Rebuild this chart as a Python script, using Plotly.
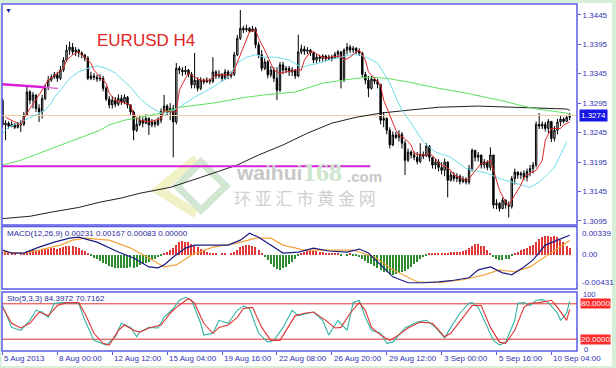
import plotly.graph_objects as go

W, H = 616, 368
def px(x):
    return x / W
def py(y):
    return 1 - y / H

# ---------------- data ----------------
first_open = 1.3300
closes = [1.3258,1.3261,1.3256,1.3259,1.3254,1.3258,1.3259,1.3275,1.3314,1.3300,
1.3309,1.3286,1.3280,1.3303,1.3322,1.3334,1.3339,1.3343,1.3337,1.3351,
1.3368,1.3385,1.3390,1.3382,1.3385,1.3380,1.3377,1.3371,1.3337,1.3341,
1.3339,1.3336,1.3337,1.3320,1.3302,1.3292,1.3300,1.3293,1.3303,1.3297,
1.3305,1.3292,1.3280,1.3249,1.3259,1.3266,1.3261,1.3269,1.3258,1.3263,
1.3259,1.3266,1.3281,1.3290,1.3280,1.3286,1.3263,1.3354,1.3351,1.3348,
1.3351,1.3344,1.3326,1.3334,1.3320,1.3334,1.3331,1.3334,1.3332,1.3348,
1.3341,1.3344,1.3337,1.3348,1.3341,1.3344,1.3377,1.3405,1.3422,1.3419,
1.3422,1.3417,1.3421,1.3394,1.3377,1.3354,1.3365,1.3343,1.3351,1.3337,
1.3317,1.3360,1.3351,1.3354,1.3348,1.3351,1.3341,1.3382,1.3387,1.3383,
1.3385,1.3380,1.3368,1.3373,1.3371,1.3375,1.3370,1.3373,1.3371,1.3378,
1.3382,1.3334,1.3385,1.3390,1.3385,1.3388,1.3383,1.3380,1.3344,1.3334,
1.3320,1.3336,1.3332,1.3327,1.3266,1.3269,1.3249,1.3224,1.3241,1.3237,
1.3242,1.3227,1.3198,1.3212,1.3207,1.3203,1.3196,1.3208,1.3205,1.3222,
1.3203,1.3190,1.3195,1.3186,1.3181,1.3195,1.3164,1.3173,1.3167,1.3171,
1.3162,1.3166,1.3161,1.3184,1.3215,1.3203,1.3207,1.3190,1.3195,1.3186,
1.3207,1.3122,1.3125,1.3116,1.3130,1.3122,1.3120,1.3167,1.3178,1.3173,
1.3176,1.3169,1.3179,1.3184,1.3190,1.3259,1.3256,1.3259,1.3252,1.3264,
1.3235,1.3249,1.3263,1.3268,1.3264,1.3271,1.3274]
highs = [1.3303,1.3266,1.3264,1.3264,1.3261,1.3263,1.3266,1.3280,1.3324,1.3317,
1.3314,1.3309,1.3293,1.3309,1.3327,1.3341,1.3344,1.3348,1.3348,1.3358,
1.3373,1.3394,1.3399,1.3397,1.3390,1.3387,1.3383,1.3378,1.3375,1.3348,
1.3346,1.3343,1.3344,1.3341,1.3324,1.3307,1.3307,1.3305,1.3310,1.3309,
1.3310,1.3307,1.3293,1.3283,1.3269,1.3275,1.3271,1.3276,1.3271,1.3268,
1.3266,1.3271,1.3286,1.3309,1.3293,1.3295,1.3292,1.3363,1.3358,1.3356,
1.3358,1.3353,1.3348,1.3380,1.3339,1.3339,1.3337,1.3339,1.3337,1.3373,
1.3351,1.3351,1.3346,1.3353,1.3351,1.3349,1.3382,1.3411,1.3453,1.3426,
1.3428,1.3424,1.3426,1.3424,1.3399,1.3385,1.3371,1.3368,1.3358,1.3356,
1.3356,1.3365,1.3365,1.3358,1.3358,1.3356,1.3353,1.3411,1.3394,1.3392,
1.3390,1.3387,1.3383,1.3378,1.3377,1.3378,1.3377,1.3377,1.3377,1.3382,
1.3385,1.3383,1.3388,1.3397,1.3394,1.3392,1.3390,1.3388,1.3382,1.3348,
1.3341,1.3341,1.3339,1.3336,1.3327,1.3280,1.3271,1.3254,1.3247,1.3246,
1.3249,1.3246,1.3232,1.3218,1.3215,1.3213,1.3212,1.3227,1.3213,1.3227,
1.3224,1.3203,1.3201,1.3200,1.3195,1.3201,1.3196,1.3179,1.3178,1.3176,
1.3174,1.3171,1.3169,1.3190,1.3218,1.3215,1.3212,1.3207,1.3200,1.3198,
1.3220,1.3207,1.3132,1.3127,1.3135,1.3132,1.3128,1.3171,1.3184,1.3179,
1.3179,1.3181,1.3184,1.3190,1.3195,1.3264,1.3278,1.3264,1.3263,1.3268,
1.3264,1.3256,1.3268,1.3273,1.3271,1.3275,1.3278]
lows = [1.3254,1.3232,1.3252,1.3254,1.3251,1.3252,1.3246,1.3256,1.3273,1.3293,
1.3286,1.3280,1.3263,1.3269,1.3300,1.3317,1.3331,1.3336,1.3331,1.3334,
1.3348,1.3365,1.3377,1.3377,1.3375,1.3373,1.3371,1.3366,1.3334,1.3334,
1.3334,1.3331,1.3332,1.3315,1.3298,1.3286,1.3286,1.3288,1.3290,1.3292,
1.3293,1.3286,1.3275,1.3232,1.3246,1.3256,1.3254,1.3259,1.3241,1.3254,
1.3254,1.3256,1.3261,1.3278,1.3273,1.3266,1.3203,1.3259,1.3344,1.3341,
1.3343,1.3339,1.3320,1.3320,1.3315,1.3317,1.3327,1.3329,1.3327,1.3329,
1.3336,1.3337,1.3332,1.3334,1.3336,1.3337,1.3341,1.3375,1.3402,1.3414,
1.3416,1.3414,1.3416,1.3388,1.3371,1.3349,1.3351,1.3337,1.3339,1.3331,
1.3300,1.3314,1.3344,1.3346,1.3341,1.3341,1.3336,1.3339,1.3378,1.3377,
1.3378,1.3375,1.3363,1.3363,1.3365,1.3366,1.3366,1.3368,1.3366,1.3370,
1.3371,1.3320,1.3331,1.3378,1.3380,1.3380,1.3378,1.3375,1.3339,1.3327,
1.3305,1.3318,1.3327,1.3320,1.3259,1.3254,1.3242,1.3218,1.3222,1.3234,
1.3230,1.3218,1.3173,1.3195,1.3201,1.3198,1.3191,1.3193,1.3200,1.3205,
1.3196,1.3184,1.3183,1.3179,1.3174,1.3171,1.3135,1.3162,1.3162,1.3161,
1.3157,1.3159,1.3157,1.3157,1.3179,1.3196,1.3196,1.3184,1.3184,1.3181,
1.3181,1.3116,1.3115,1.3111,1.3115,1.3116,1.3101,1.3116,1.3157,1.3167,
1.3166,1.3164,1.3162,1.3171,1.3176,1.3186,1.3251,1.3251,1.3247,1.3244,
1.3229,1.3230,1.3242,1.3256,1.3261,1.3263,1.3266]
opens = [first_open] + closes[:-1]   # gapless feed: each bar opens at previous close
bars = list(range(len(closes)))

# moving averages (bar index, price)
ma_red_x = [1,6,7,9,12,15,18,20,21,23,25,27,29,30,32,34,35,37,40,42,43,45,48,50,52,53,55,57,58,60,61,63,65,68,70,71,75,76,78,80,81,83,84,86,88,89,91,93,96,98,99,101,102,104,106,107,111,112,114,116,117,119,120,122,124,125,127,129,130,132,134,135,137,139,140,142,143,145,147,148,150,152,153,155,157,158,160,161,163,165,166,168,170,171,173,175,177,178,180,181,183,184,186]
ma_red_y = [1.3271,1.3258,1.3269,1.3286,1.3309,1.3334,1.3346,1.3354,1.3368,1.3377,1.3382,1.3373,1.3363,1.3351,1.3339,1.3329,1.3312,1.3300,1.3295,1.3292,1.3275,1.3266,1.3263,1.3266,1.3269,1.3283,1.3280,1.3280,1.3317,1.3337,1.3346,1.3339,1.3334,1.3334,1.3343,1.3343,1.3343,1.3351,1.3377,1.3402,1.3416,1.3419,1.3405,1.3385,1.3363,1.3351,1.3346,1.3348,1.3351,1.3351,1.3368,1.3382,1.3382,1.3375,1.3371,1.3373,1.3375,1.3368,1.3373,1.3382,1.3385,1.3368,1.3348,1.3337,1.3326,1.3300,1.3275,1.3249,1.3241,1.3235,1.3224,1.3210,1.3207,1.3207,1.3210,1.3201,1.3193,1.3188,1.3181,1.3173,1.3169,1.3164,1.3167,1.3181,1.3193,1.3193,1.3198,1.3181,1.3147,1.3127,1.3122,1.3139,1.3156,1.3169,1.3176,1.3181,1.3198,1.3232,1.3252,1.3252,1.3252,1.3258,1.3263]
ma_cyan_x = [0,2,6,9,12,14,16,17,19,22,25,29,31,34,37,40,42,45,48,53,58,63,69,74,77,80,83,86,90,94,98,101,104,107,111,114,117,120,123,125,127,129,131,134,136,138,140,142,147,152,159,163,167,173,176,181,185]
ma_cyan_y = [1.3244,1.3254,1.3263,1.3271,1.3278,1.3283,1.3295,1.3305,1.3317,1.3337,1.3348,1.3356,1.3358,1.3354,1.3346,1.3331,1.3322,1.3303,1.3290,1.3275,1.3288,1.3305,1.3322,1.3339,1.3363,1.3373,1.3377,1.3373,1.3373,1.3368,1.3356,1.3360,1.3363,1.3368,1.3373,1.3377,1.3377,1.3371,1.3363,1.3346,1.3329,1.3305,1.3283,1.3261,1.3244,1.3229,1.3220,1.3212,1.3203,1.3184,1.3176,1.3167,1.3161,1.3152,1.3161,1.3186,1.3229]
ma_green_x = [0,6,12,19,25,32,35,40,45,52,58,69,80,86,96,105,116,120,126,133,141,152,163,174,185,186]
ma_green_y = [1.3190,1.3198,1.3210,1.3224,1.3235,1.3249,1.3258,1.3266,1.3271,1.3278,1.3288,1.3295,1.3305,1.3309,1.3314,1.3329,1.3337,1.3339,1.3337,1.3331,1.3322,1.3312,1.3300,1.3286,1.3278,1.3275]
ma_black_x = [0,9,16,25,32,39,45,48,55,65,77,84,92,100,108,116,124,133,143,156,169,180,185,186]
ma_black_y = [1.3099,1.3103,1.3110,1.3118,1.3127,1.3134,1.3142,1.3145,1.3152,1.3169,1.3190,1.3207,1.3224,1.3244,1.3261,1.3271,1.3278,1.3283,1.3288,1.3290,1.3288,1.3286,1.3285,1.3283]

# drawn objects
trend_a_x = [-0.2, 14]
trend_a_y = [1.3327, 1.3322]
trend_b_x = [14, 18.2]
trend_b_y = [1.3322, 1.3320]
hline_x = [-0.2, 120.6]
hline_y = [1.3188, 1.3188]
bid_price = 1.3274

# MACD
macd_hist = [0.0003,0.0004,0.0003,0.0001,0.0001,0.0000,0.0001,0.0002,0.0004,0.0005,
0.0006,0.0005,0.0005,0.0006,0.0007,0.0007,0.0008,0.0008,0.0007,0.0008,
0.0009,0.0010,0.0011,0.0010,0.0009,0.0008,0.0006,0.0004,0.0001,-0.0002,
-0.0004,-0.0006,-0.0008,-0.0010,-0.0012,-0.0014,-0.0015,-0.0016,-0.0017,-0.0016,
-0.0017,-0.0016,-0.0015,-0.0016,-0.0015,-0.0013,-0.0012,-0.0010,-0.0009,-0.0007,
-0.0005,-0.0003,-0.0001,0.0001,0.0003,0.0005,0.0008,0.0012,0.0015,0.0017,
0.0016,0.0015,0.0013,0.0011,0.0009,0.0007,0.0005,0.0003,0.0002,0.0001,
0.0001,0.0000,0.0001,0.0001,0.0000,0.0001,0.0003,0.0006,0.0009,0.0011,
0.0012,0.0012,0.0011,0.0009,0.0005,0.0001,-0.0003,-0.0007,-0.0012,-0.0015,
-0.0018,-0.0019,-0.0017,-0.0015,-0.0012,-0.0009,-0.0005,-0.0002,0.0001,0.0003,
0.0004,0.0005,0.0004,0.0004,0.0003,0.0003,0.0002,0.0002,0.0001,0.0002,
0.0001,-0.0001,0.0000,-0.0001,0.0001,-0.0001,-0.0002,-0.0003,-0.0006,-0.0008,
-0.0011,-0.0012,-0.0014,-0.0016,-0.0019,-0.0021,-0.0022,-0.0024,-0.0025,-0.0024,
-0.0023,-0.0021,-0.0020,-0.0018,-0.0015,-0.0012,-0.0009,-0.0006,-0.0003,-0.0001,
0.0001,0.0001,0.0002,0.0001,0.0002,0.0002,0.0001,0.0003,0.0003,0.0003,
0.0003,0.0004,0.0005,0.0008,0.0011,0.0013,0.0013,0.0011,0.0010,0.0006,
0.0002,-0.0003,-0.0005,-0.0007,-0.0007,-0.0006,-0.0005,-0.0002,0.0001,0.0003,
0.0005,0.0007,0.0008,0.0010,0.0012,0.0015,0.0019,0.0021,0.0023,0.0023,
0.0022,0.0023,0.0021,0.0018,0.0015,0.0011,0.0008]
macd_main_x = [0,3,7,12,17,22,25,31,38,43,48,51,53,56,60,63,69,74,78,81,84,88,92,97,102,107,113,117,120,124,128,133,138,143,147,153,156,160,164,167,171,174,178,182,186]
macd_main_y = [0.00049,0.00012,0.00012,0.00085,0.00146,0.00195,0.00207,0.00146,0.00024,-0.00049,-0.00159,-0.00171,-0.00134,-0.00037,0.00073,0.00110,0.00110,0.00110,0.00171,0.00256,0.00207,0.00110,0.00012,0.00024,0.00073,0.00037,0.00024,0.00061,0.00012,-0.00134,-0.00281,-0.00354,-0.00354,-0.00342,-0.00329,-0.00293,-0.00195,-0.00159,-0.00232,-0.00256,-0.00159,-0.00073,0.00110,0.00171,0.00231]
macd_sig_x = [0,7,12,19,23,27,35,42,48,53,57,62,69,77,83,88,92,99,107,115,122,128,136,143,151,158,163,168,173,180,186]
macd_sig_y = [0.00024,0.00012,0.00049,0.00110,0.00171,0.00195,0.00171,0.00073,-0.00049,-0.00159,-0.00134,-0.00012,0.00085,0.00134,0.00195,0.00195,0.00110,0.00049,0.00049,0.00049,-0.00037,-0.00195,-0.00342,-0.00354,-0.00317,-0.00256,-0.00195,-0.00220,-0.00159,0.00012,0.00167]

# Stochastic
sto_k_x = [0,3,6,9,11,13,15,17,20,25,27,30,34,37,39,42,44,45,48,51,53,56,58,60,62,65,66,69,71,74,77,79,81,84,87,89,92,95,97,102,105,107,110,113,115,117,119,121,124,126,128,132,136,139,142,145,147,150,153,154,156,159,161,163,165,168,169,171,173,175,177,179,182,183,185,186]
sto_k_y = [77,40,35,52,69,66,57,81,82,81,52,18,10,24,47,40,24,32,40,39,57,72,86,91,86,47,27,30,52,47,69,76,72,30,15,18,40,69,60,66,52,27,52,35,82,86,57,35,30,13,15,39,49,52,40,22,40,64,81,82,74,40,18,10,15,52,81,82,77,86,87,82,64,52,64,84.3972]
sto_d_x = [0,3,6,9,12,15,18,21,25,27,30,33,35,38,40,43,45,48,52,55,57,61,63,66,69,71,74,77,79,82,85,88,91,93,96,99,102,106,109,111,114,117,119,121,124,127,129,133,137,141,145,147,151,154,157,160,163,165,168,171,173,176,180,182,185,186]
sto_d_y = [74,47,39,47,66,60,77,82,82,64,30,13,10,35,44,35,32,39,44,64,74,89,81,47,30,40,44,57,72,74,40,18,18,35,60,64,66,52,39,40,64,82,69,40,27,18,24,39,49,47,24,30,57,77,77,40,15,13,35,74,81,82,86,74,52,70.7162]

tick_bars = [0, 18, 36, 54, 72, 90, 108, 126, 144, 162, 180]
tick_text = ["5 Aug 2013", "8 Aug 00:00", "12 Aug 12:00", "15 Aug 04:00", "19 Aug 16:00",
             "22 Aug 08:00", "26 Aug 20:00", "29 Aug 12:00", "3 Sep 00:00", "5 Sep 16:00", "10 Sep 04:00"]
price_ticks = [1.3095, 1.3145, 1.3195, 1.3245, 1.3295, 1.3345, 1.3395, 1.3445]

# ---------------- styles ----------------
FONT = "Liberation Sans"
LBL = "#3232b4"
FRAME = "#5a5ae6"
X_RANGE = [-0.16, 188.4]

fig = go.Figure()

fig.add_trace(go.Scatter(x=[X_RANGE[0], X_RANGE[1]], y=[bid_price, bid_price], mode="lines",
                         line=dict(color="#f3cfa5", width=1), hoverinfo="skip", xaxis="x", yaxis="y"))
fig.add_trace(go.Candlestick(x=bars, open=opens, high=highs, low=lows, close=closes,
                             increasing=dict(line=dict(color="#000000", width=1), fillcolor="#d9d9d9"),
                             decreasing=dict(line=dict(color="#000000", width=1), fillcolor="#000000"),
                             whiskerwidth=0, hoverinfo="skip", xaxis="x", yaxis="y"))
for xs, ys, col in [(ma_black_x, ma_black_y, "#1e1e1e"), (ma_green_x, ma_green_y, "#5ee05e"),
                    (ma_cyan_x, ma_cyan_y, "#6fdcec"), (ma_red_x, ma_red_y, "#e02828")]:
    fig.add_trace(go.Scatter(x=xs, y=ys, mode="lines", line=dict(color=col, width=1),
                             hoverinfo="skip", xaxis="x", yaxis="y"))
fig.add_trace(go.Scatter(x=trend_a_x, y=trend_a_y, mode="lines", line=dict(color="#d91fd9", width=2.5),
                         hoverinfo="skip", xaxis="x", yaxis="y"))
fig.add_trace(go.Scatter(x=trend_b_x, y=trend_b_y, mode="lines", line=dict(color="#e070e0", width=1.5),
                         hoverinfo="skip", xaxis="x", yaxis="y"))
fig.add_trace(go.Scatter(x=hline_x, y=hline_y, mode="lines", line=dict(color="#d91fd9", width=2),
                         hoverinfo="skip", xaxis="x", yaxis="y"))

# MACD
fig.add_trace(go.Bar(x=bars, y=macd_hist, width=0.4,
                     marker=dict(color=["#e03838" if v >= 0 else "#2e8b2e" for v in macd_hist], line=dict(width=0)),
                     hoverinfo="skip", xaxis="x2", yaxis="y2"))
fig.add_trace(go.Scatter(x=macd_sig_x, y=macd_sig_y, mode="lines", line=dict(color="#f2a43a", width=1.2),
                         hoverinfo="skip", xaxis="x2", yaxis="y2"))
fig.add_trace(go.Scatter(x=macd_main_x, y=macd_main_y, mode="lines", line=dict(color="#1c1c86", width=1.2),
                         hoverinfo="skip", xaxis="x2", yaxis="y2"))

# Stochastic
fig.add_trace(go.Scatter(x=sto_k_x, y=sto_k_y, mode="lines", line=dict(color="#2fb3a3", width=1.1),
                         hoverinfo="skip", xaxis="x3", yaxis="y3"))
fig.add_trace(go.Scatter(x=sto_d_x, y=sto_d_y, mode="lines", line=dict(color="#e03434", width=1.1),
                         hoverinfo="skip", xaxis="x3", yaxis="y3"))

xd = [px(2), px(577)]
common_x = dict(domain=xd, showgrid=False, zeroline=False, showticklabels=False, fixedrange=True)
fig.update_layout(
    width=W, height=H, margin=dict(l=0, r=0, t=0, b=0),
    paper_bgcolor="#d6efd6", plot_bgcolor="rgba(0,0,0,0)",
    showlegend=False, bargap=0, boxgap=0.35,
    xaxis=dict(**common_x, range=X_RANGE, anchor="y", rangeslider=dict(visible=False)),
    xaxis2=dict(**common_x, anchor="y2", matches="x"),
    xaxis3=dict(**common_x, anchor="y3", matches="x", ticks="outside", tickvals=tick_bars,
                ticklen=3, tickcolor=FRAME, tickwidth=1),
    yaxis=dict(domain=[py(225), py(4)], range=[1.30882, 1.34632], side="right", anchor="x",
               tickvals=price_ticks, ticktext=[f"{v:.4f}" for v in price_ticks],
               ticks="outside", ticklen=3, tickcolor=FRAME, tickwidth=1,
               tickfont=dict(family=FONT, size=8, color=LBL),
               showgrid=False, zeroline=False, fixedrange=True),
    yaxis2=dict(domain=[py(289), py(226.5)], range=[-0.00431, 0.00339], anchor="x2",
                showticklabels=False, showgrid=False, zeroline=False, fixedrange=True),
    yaxis3=dict(domain=[py(351), py(292)], range=[0, 100], anchor="x3",
                showticklabels=False, showgrid=False, zeroline=False, fixedrange=True),
)

shapes = [
    dict(type="rect", xref="paper", yref="paper", x0=px(1.5), x1=px(612), y0=py(366), y1=py(3),
         fillcolor="#ffffff", line=dict(width=0), layer="below"),
    # watermark logo
    dict(type="path", xref="paper", yref="paper", layer="below",
         path=f"M {px(196)},{py(159)} L {px(158)},{py(190)} L {px(196)},{py(214)}",
         line=dict(color="#f1f1c6", width=9)),
    dict(type="path", xref="paper", yref="paper", layer="below",
         path=f"M {px(201)},{py(162)} L {px(226)},{py(186)} L {px(201)},{py(210)} L {px(177)},{py(186)} Z",
         line=dict(color="#d2e6d2", width=7)),
    # stochastic levels
    dict(type="line", xref="paper", yref="y3", x0=px(2), x1=px(577), y0=80, y1=80,
         line=dict(color="#e03030", width=1), layer="below"),
    dict(type="line", xref="paper", yref="y3", x0=px(2), x1=px(577), y0=20, y1=20,
         line=dict(color="#e03030", width=1), layer="below"),
]
for top, bot in [(4, 225), (226.5, 289), (292, 351)]:
    shapes.append(dict(type="rect", xref="paper", yref="paper", x0=px(2), x1=px(577),
                       y0=py(bot), y1=py(top), line=dict(color=FRAME, width=1.5),
                       fillcolor="rgba(0,0,0,0)", layer="above"))
fig.update_layout(shapes=shapes)

ann = []
def txt(x, y, s, size=8, color=LBL, xanchor="left", yanchor="middle", family=FONT, xref="paper", yref="paper", **kw):
    ann.append(dict(x=x, y=y, xref=xref, yref=yref, text=s, showarrow=False, xanchor=xanchor,
                    yanchor=yanchor, font=dict(family=family, size=size, color=color), **kw))

# watermark text
txt(px(234), py(173), "<b>waihui</b>", size=21, color="#c7c7c7")
txt(px(301), py(172), "<b>168</b>", size=26, color="#cde6cd", family="Liberation Serif")
txt(px(345), py(176), "<b>.com</b>", size=15, color="#c9c9c9")
txt(px(232), py(198), "环 亚 汇 市 黄 金 网", size=17, color="#d0d0d0", family="Noto Sans CJK SC")

txt(px(146), py(40), "EURUSD H4", size=17, color="#e02424", xanchor="center")
txt(px(8.5), py(10.5), "▼", size=7, color="#1a1a9a", xanchor="center")

txt(px(5), py(233.5), "MACD(12,26,9) 0.00231 0.00167 0.00083 0.00000", size=8, color="#2a2a9c")
txt(px(5), py(298.5), "Sto(5,3,3) 84.3972 70.7162", size=8, color="#2a2a9c")

# MACD scale labels
txt(px(580), py(233), "0.00339")
txt(px(580), 0, "0.00", yref="y2")
txt(px(580), py(282.5), "-0.00431")
# Stochastic scale labels
txt(px(580), 80, "80.0000", color="#ffffff", yref="y3", bgcolor="#ff2a2a", borderpad=0)
txt(px(580), 20, "20.0000", color="#ffffff", yref="y3", bgcolor="#ff2a2a", borderpad=0)
txt(px(581), py(294.5), "100", size=7.5)
txt(px(582), py(349), "0", size=7.5)
# current price box
txt(px(579), bid_price, "1.3274", color="#ffffff", yref="y", bgcolor="#1616e6", borderpad=1)
# time labels
for b, s in zip(tick_bars, tick_text):
    txt(b, py(358.5), s, xref="x3")

fig.update_layout(annotations=ann)
fig.write_html("out.html", config={"displayModeBar": False},
               post_script="document.body.style.margin='0';document.body.style.padding='0';")
